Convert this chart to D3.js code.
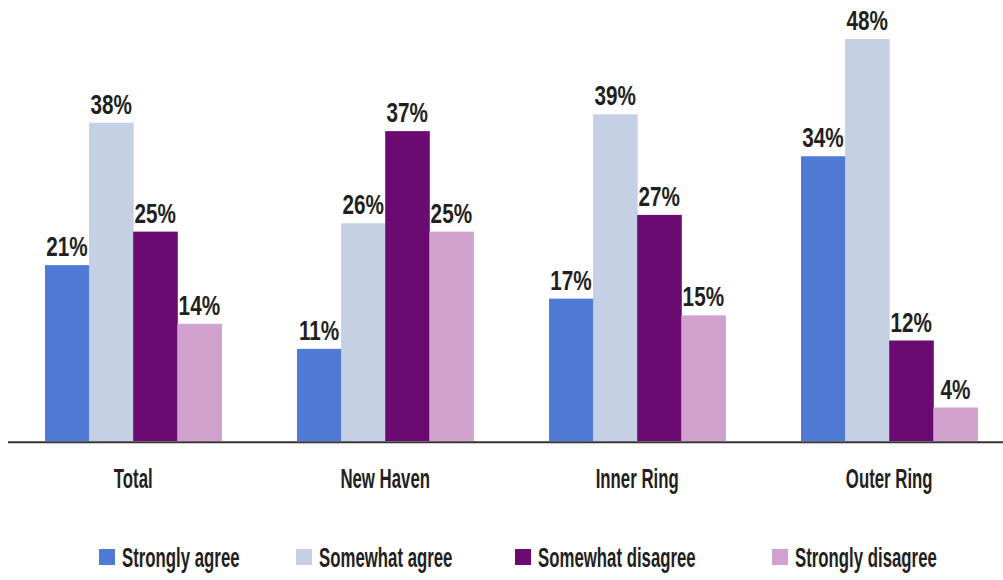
<!DOCTYPE html>
<html>
<head>
<meta charset="utf-8">
<script src="https://cdn.jsdelivr.net/npm/d3@7/dist/d3.min.js"></script>
<style>
  html, body { margin: 0; padding: 0; background: #fff; }
  svg { display: block; }
  text { font-family: "Liberation Sans", Arial, sans-serif; font-weight: bold; fill: #231f20; }
</style>
</head>
<body>
<svg id="chart" width="1003" height="580"></svg>
<script>
// Survey response shares by area
const categories = ["Total", "New Haven", "Inner Ring", "Outer Ring"];
const seriesNames = ["Strongly agree", "Somewhat agree", "Somewhat disagree", "Strongly disagree"];
const stronglyAgree    = [21, 11, 17, 34];
const somewhatAgree    = [38, 26, 39, 48];
const somewhatDisagree = [25, 37, 27, 12];
const stronglyDisagree = [14, 25, 15, 4];
const seriesColors = ["#4f7ad6", "#c5d0e5", "#6b0a71", "#d0a2cd"];

const seriesValues = [stronglyAgree, somewhatAgree, somewhatDisagree, stronglyDisagree];
const width = 1003, height = 580;
const baseY = 441;
const fontSize = 28;
// horizontal squeeze to get a condensed look
const numSqueeze = 0.74, wordSqueeze = 0.6;

const svg = d3.select("#chart");

const x0 = d3.scaleBand()
  .domain(categories)
  .range([7.2, 1015.2])
  .paddingInner(0.3)
  .paddingOuter(0.15);

const x1 = d3.scaleBand()
  .domain(seriesNames)
  .range([0, x0.bandwidth()]);

const y = d3.scaleLinear()
  .domain([0, 48])
  .range([baseY, 39]);

const color = d3.scaleOrdinal().domain(seriesNames).range(seriesColors);

const rows = categories.map((c, i) => ({
  category: c,
  values: seriesNames.map((s, j) => ({ series: s, value: seriesValues[j][i] }))
}));

const groups = svg.append("g").selectAll("g")
  .data(rows)
  .join("g")
  .attr("transform", d => `translate(${x0(d.category)},0)`);

groups.selectAll("rect")
  .data(d => d.values)
  .join("rect")
  .attr("x", d => x1(d.series))
  .attr("y", d => y(d.value))
  .attr("width", x1.bandwidth() + 0.5)
  .attr("height", d => baseY - y(d.value))
  .attr("fill", d => color(d.series));

groups.selectAll("text.value")
  .data(d => d.values)
  .join("text")
  .attr("class", "value")
  .attr("transform", d => `translate(${x1(d.series) + x1.bandwidth() / 2},${y(d.value) - 9}) scale(${numSqueeze},1)`)
  .attr("text-anchor", "middle")
  .attr("font-size", fontSize)
  .text(d => d.value + "%");

// Baseline axis with category labels
const axis = d3.axisBottom(x0).tickSize(0).tickPadding(0);
const axisG = svg.append("g")
  .attr("transform", `translate(0,${baseY})`)
  .call(axis);
axisG.select(".domain").remove();
axisG.selectAll(".tick text")
  .attr("y", 47)
  .attr("dy", null)
  .attr("transform", `scale(${wordSqueeze},1)`)
  .attr("font-size", fontSize)
  .attr("font-family", null);

svg.append("line")
  .attr("x1", 8).attr("x2", width)
  .attr("y1", baseY + 1.3).attr("y2", baseY + 1.3)
  .attr("stroke", "#333")
  .attr("stroke-width", 2);

// Legend
const legendX = [99, 296, 515, 772];
const legend = svg.append("g").selectAll("g")
  .data(seriesNames)
  .join("g")
  .attr("transform", (d, i) => `translate(${legendX[i]},549)`);

legend.append("rect")
  .attr("width", 16).attr("height", 16)
  .attr("fill", d => color(d));

legend.append("text")
  .attr("transform", `translate(23,18) scale(${wordSqueeze},1)`)
  .attr("font-size", fontSize)
  .text(d => d);
</script>
</body>
</html>
